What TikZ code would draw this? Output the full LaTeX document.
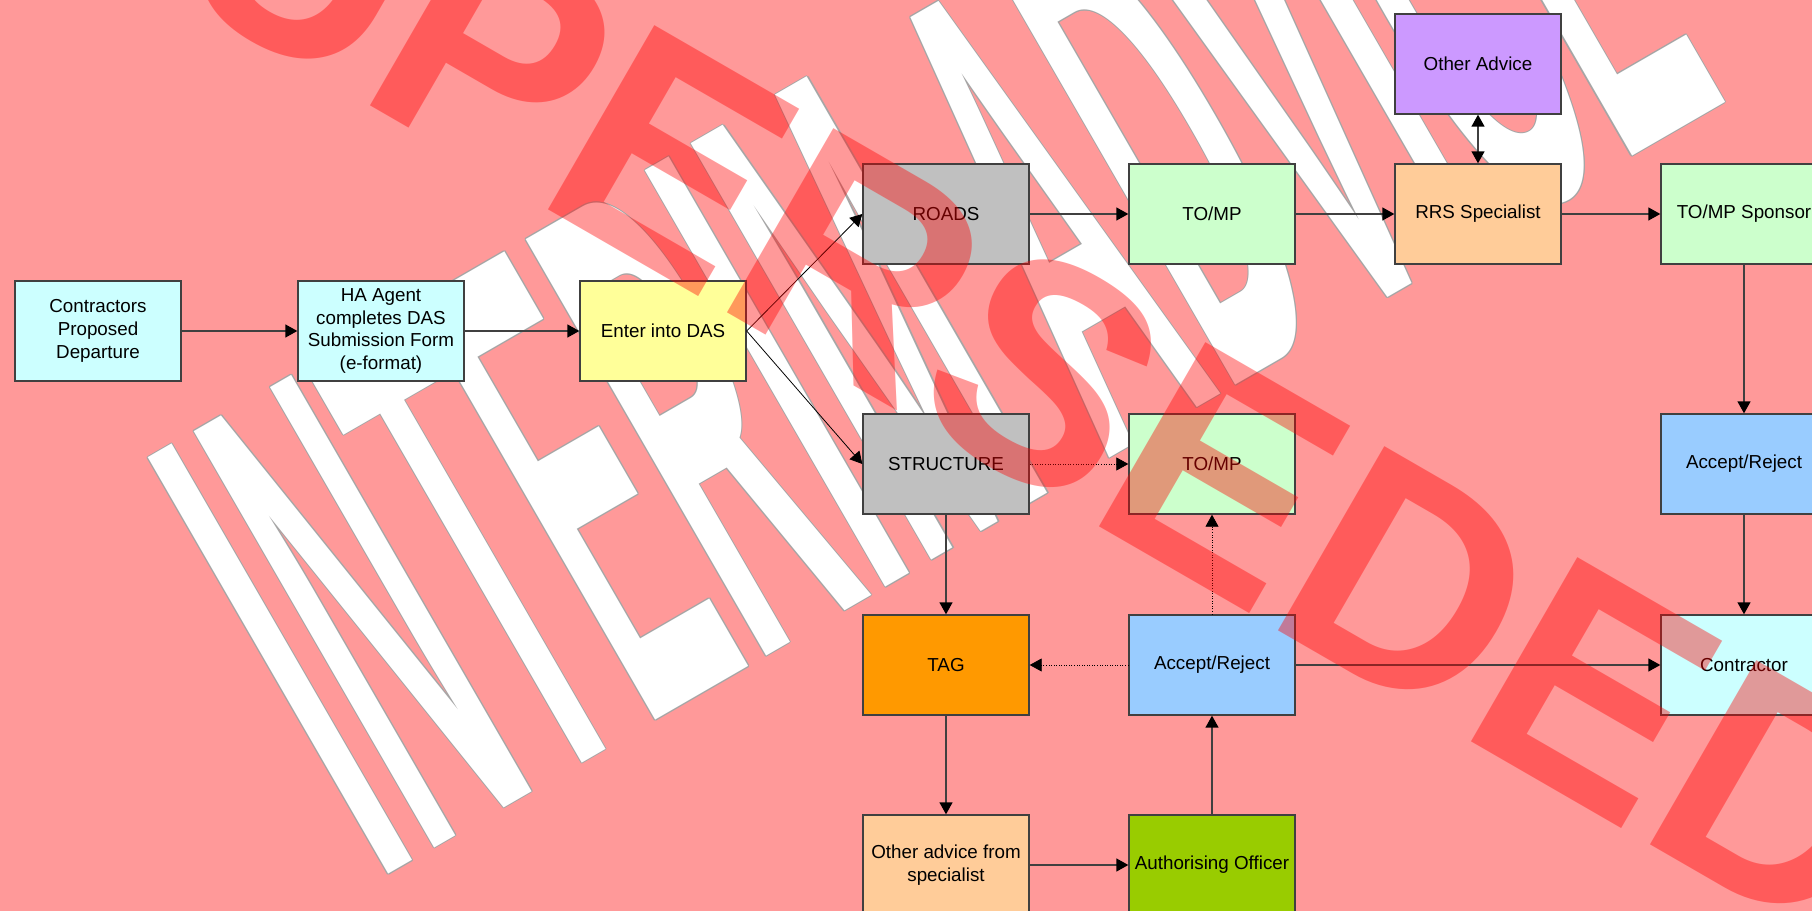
\documentclass[tikz,border=0pt]{standalone}
\usepackage{fontspec}
\setmainfont{Liberation Sans}
\usetikzlibrary{arrows.meta}

\definecolor{bgpink}{HTML}{FF9999}
\definecolor{paleCyan}{HTML}{CCFFFF}
\definecolor{paleYellow}{HTML}{FFFF99}
\definecolor{midGray}{HTML}{C0C0C0}
\definecolor{paleGreen}{HTML}{CCFFCC}
\definecolor{peach}{HTML}{FFCC99}
\definecolor{lilac}{HTML}{CC99FF}
\definecolor{skyBlue}{HTML}{99CCFF}
\definecolor{tagOrange}{HTML}{FF9900}
\definecolor{oliveGreen}{HTML}{99CC00}

\begin{document}
\begin{tikzpicture}[x=0.02cm, y=-0.02cm,
		box/.style={draw=black!75, line width=0.8pt, minimum width=3.32cm, minimum height=2cm,
			inner sep=1pt, align=center, font=\fontsize{10.7}{12.9}\selectfont},
		flow/.style={draw=black!75, line width=0.8pt, -{Triangle[length=0.24cm,width=0.26cm,color=black]}},
		fine/.style={draw=black, line width=0.45pt, -{Triangle[length=0.24cm,width=0.26cm]}},
		dots/.style={fine, densely dotted},
		stamp/.style={anchor=base west, inner sep=0pt, rotate=30, yscale=3.65, transform shape,
			font=\fontsize{109}{109}\bfseries\selectfont}]
		\useasboundingbox (0,0) rectangle (1812,911);
		\fill[bgpink] (0,0) rectangle (1812,911);
		
		% white stamp under the chart
		\foreach \dx/\dy in {0.6/0,-0.6/0,0/0.6,0/-0.6,0.45/0.45,-0.45/0.45,0.45/-0.45,-0.45/-0.45}
			\node at (377,881) [xshift=\dx pt, yshift=\dy pt, stamp, text=black!35] {INTERIM ADVICE};
		\node (interim) at (377,881) [stamp, text=white] {INTERIM ADVICE};
		
		\node (contr) at (98,331) [box, fill=paleCyan] {Contractors\\Proposed\\Departure};
		\node (haagent) at (381,331) [box, fill=paleCyan] {HA Agent\\completes DAS\\Submission Form\\(e-format)};
		\node (enter) at (663,331) [box, fill=paleYellow] {Enter into DAS};
		
		\node (roads) at (946,214) [box, fill=midGray] {ROADS};
		\node (tompA) at (1212,214) [box, fill=paleGreen] {TO/MP};
		\node (rrs) at (1478,214) [box, fill=peach] {RRS Specialist};
		\node (sponsor) at (1744,214) [box, fill=paleGreen] {TO/MP Sponsor};
		\node (advice) at (1478,64) [box, fill=lilac] {Other Advice};
		
		\node (structure) at (946,464) [box, fill=midGray] {STRUCTURE};
		\node (tompB) at (1212,464) [box, fill=paleGreen] {TO/MP};
		\node (arRight) at (1744,464) [box, fill=skyBlue] {Accept/Reject};
		
		\node (tag) at (946,665) [box, fill=tagOrange] {TAG};
		\node (arMid) at (1212,665) [box, fill=skyBlue] {Accept/Reject};
		\node (contractor) at (1744,665) [box, fill=paleCyan] {Contractor};
		
		\node (specialist) at (946,865) [box, fill=peach] {Other advice from\\specialist};
		\node (officer) at (1212,865) [box, fill=oliveGreen] {Authorising Officer};
		
		\draw[flow] (contr) -- (haagent);
		\draw[flow] (haagent) -- (enter);
		\draw[fine] (enter.east) -- (roads.west);
		\draw[fine] (enter.east) -- (structure.west);
		\draw[flow] (roads) -- (tompA);
		\draw[flow] (tompA) -- (rrs);
		\draw[flow] (rrs) -- (sponsor);
		\draw[flow, {Triangle[length=0.24cm,width=0.26cm,color=black]}-{Triangle[length=0.24cm,width=0.26cm,color=black]}] (advice) -- (rrs);
		\draw[flow] (sponsor) -- (arRight);
		\draw[flow] (arRight) -- (contractor);
		\draw[dots] (structure) -- (tompB);
		\draw[flow] (structure) -- (tag);
		\draw[dots] (arMid) -- (tag);
		\draw[dots] (arMid) -- (tompB);
		\draw[flow] (arMid) -- (contractor);
		\draw[flow] (tag) -- (specialist);
		\draw[flow] (specialist) -- (officer);
		\draw[flow] (officer) -- (arMid);
		
		% red stamp over everything
		\node (superseded) at (-20,-119) [anchor=base west, inner sep=0pt, rotate=-30, text=red, text opacity=0.4,
			font=\fontsize{176}{176}\bfseries\selectfont] {SUPERSEDED};
\end{tikzpicture}
\end{document}
